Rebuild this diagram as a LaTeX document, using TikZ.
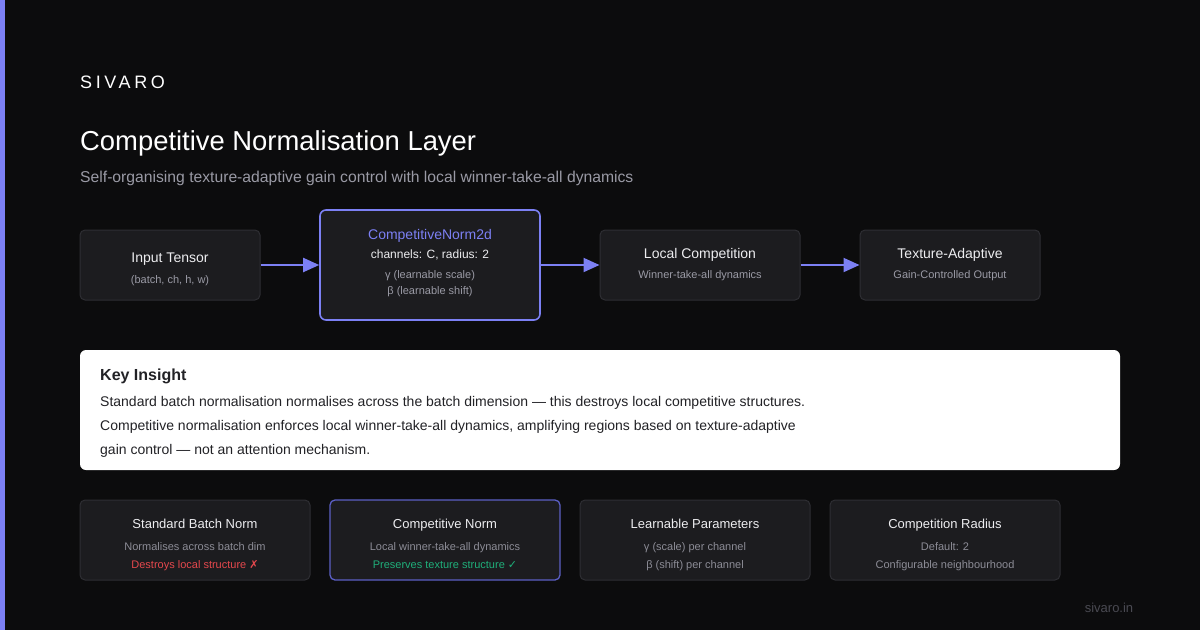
\documentclass[tikz,border=0pt]{standalone}
\usepackage{fontspec}
\setmainfont{Liberation Sans}
\newfontfamily\symfont{DejaVu Sans}
\usetikzlibrary{arrows.meta}
\definecolor{bgc}{HTML}{0C0C0D}
\definecolor{boxfill}{HTML}{1C1C1F}
\definecolor{boxline}{HTML}{2E2E33}
\definecolor{accent}{HTML}{7C80F4}
\definecolor{accentdim}{HTML}{5B5FC4}
\definecolor{txtmain}{HTML}{EDEDF0}
\definecolor{txtgray}{HTML}{9A9AA5}
\definecolor{txtdim}{HTML}{8C8C96}
\definecolor{txtfoot}{HTML}{4A4A52}
\definecolor{redc}{HTML}{E5484D}
\definecolor{greenc}{HTML}{1FAF7A}
\definecolor{darktxt}{HTML}{222226}
\tikzset{
  flowbox/.style={draw=boxline, fill=boxfill, line width=1pt, rounded corners=5pt, inner sep=0pt},
  accbox/.style={draw=accent, fill=boxfill, line width=1.6pt, rounded corners=6pt, inner sep=0pt},
  cardbox/.style={draw=boxline, fill=boxfill, line width=1pt, rounded corners=5pt, inner sep=0pt},
  cardacc/.style={draw=accentdim, fill=boxfill, line width=1.3pt, rounded corners=5pt, inner sep=0pt},
  flowarrow/.style={draw=accent, line width=2pt, -{Triangle[length=16pt,width=14pt]}},
  ttl/.style={text=txtmain, font=\fontsize{14}{16}\selectfont, anchor=base, inner sep=0pt},
  sub/.style={text=txtgray, font=\fontsize{11}{13}\selectfont, anchor=base, inner sep=0pt},
  cttl/.style={text=txtmain, font=\fontsize{13}{15}\selectfont, anchor=base, inner sep=0pt},
  csub/.style={text=txtdim, font=\fontsize{11}{12}\selectfont, anchor=base, inner sep=0pt},
  para/.style={text=darktxt, font=\fontsize{14}{16}\selectfont, anchor=base west, inner sep=0pt},
}
\begin{document}
\begin{tikzpicture}[x=1pt,y=-1pt]
\fill[bgc] (0,0) rectangle (1200,630);
\useasboundingbox (0,0) rectangle (1200,630);
\fill[accent] (0,0) rectangle (5,630);

% header
\node[anchor=base west, inner sep=0pt, text=white, font=\fontsize{18}{20}\selectfont\addfontfeature{LetterSpace=20}] (brand) at (80,88) {SIVARO};
\node[anchor=base west, inner sep=0pt, text=white, font=\fontsize{27.4}{30}\selectfont] (title) at (80,150) {Competitive Normalisation Layer};
\node[anchor=base west, inner sep=0pt, text=txtgray, font=\fontsize{15.7}{18}\selectfont] (subtitle) at (80,182) {Self-organising texture-adaptive gain control with local winner-take-all dynamics};

% flow boxes
\node[flowbox, minimum width=180pt, minimum height=70pt] (inp) at (170,265) {};
\node[accbox, minimum width=220pt, minimum height=110pt] (cn) at (430,265) {};
\node[flowbox, minimum width=200pt, minimum height=70pt] (lc) at (700,265) {};
\node[flowbox, minimum width=180pt, minimum height=70pt] (ta) at (950,265) {};

\node[ttl] (inpT) at (170,262) {Input Tensor};
\node[sub] (inpS) at (170,283) {(batch, ch, h, w)};

\node[ttl, text=accent] (cnT) at (430,239) {CompetitiveNorm2d};
\node[text=txtmain, font=\fontsize{12}{14}\selectfont, anchor=base, inner sep=0pt] (cnA) at (430,258) {channels: C, radius: 2};
\node[sub] (cnB) at (430,278) {γ (learnable scale)};
\node[sub] (cnC) at (430,294) {β (learnable shift)};

\node[ttl] (lcT) at (700,258) {Local Competition};
\node[sub] (lcS) at (700,278) {Winner-take-all dynamics};

\node[ttl] (taT) at (950,258) {Texture-Adaptive};
\node[sub] (taS) at (950,278) {Gain-Controlled Output};

\draw[flowarrow] (inp.east) -- (cn.west);
\draw[flowarrow] (cn.east) -- (lc.west);
\draw[flowarrow] (lc.east) -- (ta.west);

% key insight
\node[fill=white, rounded corners=6pt, minimum width=1040pt, minimum height=120pt, inner sep=0pt] (key) at (600,410) {};
\node[anchor=base west, inner sep=0pt, text=darktxt, font=\fontsize{16}{18}\selectfont\bfseries] (keyT) at (100,380) {Key Insight};
\node[para] (k1) at (100,406) {Standard batch normalisation normalises across the batch dimension — this destroys local competitive structures.};
\node[para] (k2) at (100,430) {Competitive normalisation enforces local winner-take-all dynamics, amplifying regions based on texture-adaptive};
\node[para] (k3) at (100,454) {gain control — not an attention mechanism.};

% cards
\node[cardbox, minimum width=230pt, minimum height=80pt] (c1) at (195,540) {};
\node[cardacc, minimum width=230pt, minimum height=80pt] (c2) at (445,540) {};
\node[cardbox, minimum width=230pt, minimum height=80pt] (c3) at (695,540) {};
\node[cardbox, minimum width=230pt, minimum height=80pt] (c4) at (945,540) {};

\node[cttl] (c1T) at (195,528) {Standard Batch Norm};
\node[csub] (c1A) at (195,550) {Normalises across batch dim};
\node[csub, text=redc] (c1B) at (195,568) {Destroys local structure {\symfont ✗}};

\node[cttl] (c2T) at (445,528) {Competitive Norm};
\node[csub] (c2A) at (445,550) {Local winner-take-all dynamics};
\node[csub, text=greenc] (c2B) at (445,568) {Preserves texture structure {\symfont ✓}};

\node[cttl] (c3T) at (695,528) {Learnable Parameters};
\node[csub] (c3A) at (695,550) {γ (scale) per channel};
\node[csub] (c3B) at (695,568) {β (shift) per channel};

\node[cttl] (c4T) at (945,528) {Competition Radius};
\node[csub] (c4A) at (945,550) {Default: 2};
\node[csub] (c4B) at (945,568) {Configurable neighbourhood};

\node[anchor=base, inner sep=0pt, text=txtfoot, font=\fontsize{13}{15}\selectfont] (foot) at (1109,612) {sivaro.in};
\end{tikzpicture}
\end{document}
